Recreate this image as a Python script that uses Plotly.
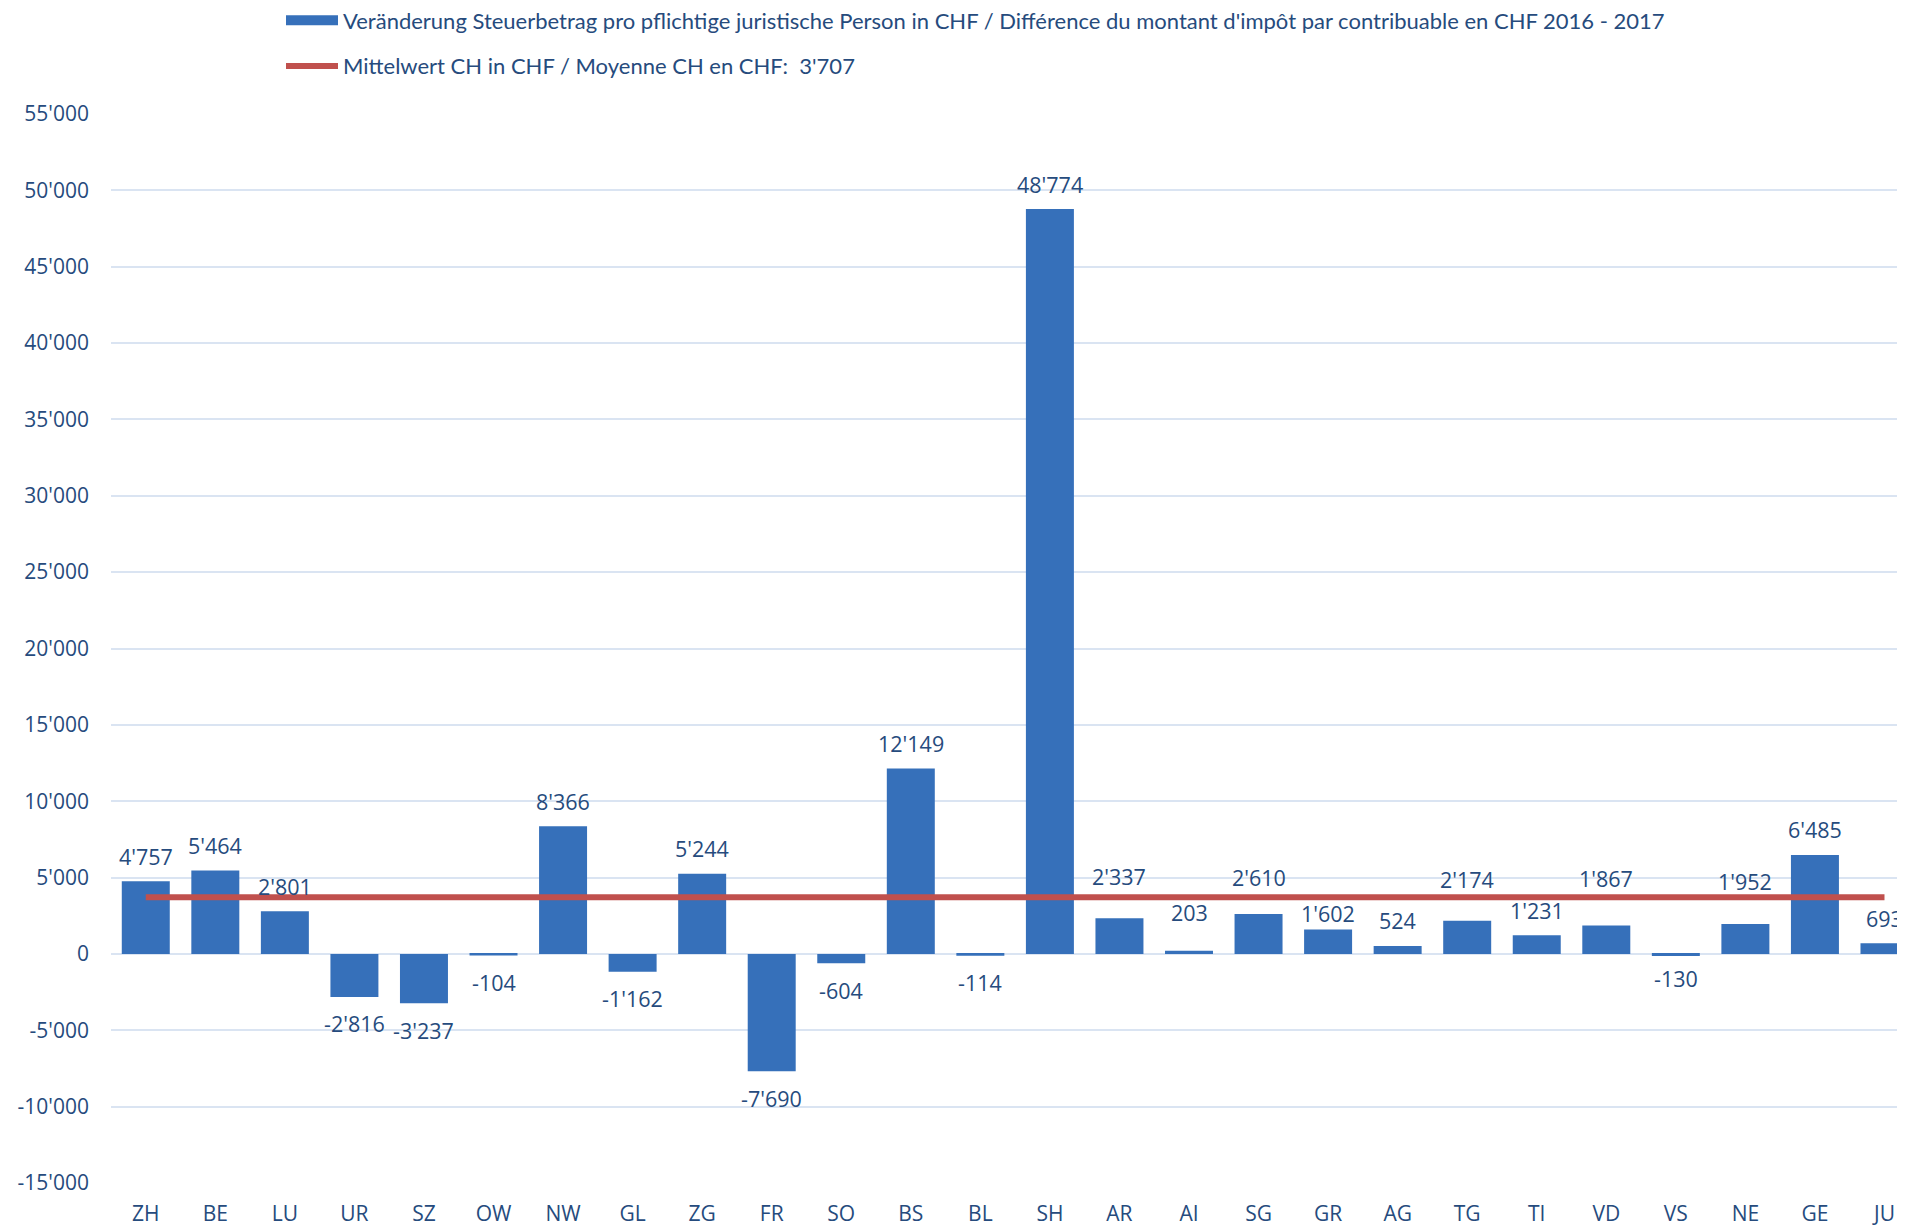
import plotly.graph_objects as go

# ---- data ----
cantons = ["ZH", "BE", "LU", "UR", "SZ", "OW", "NW", "GL", "ZG", "FR", "SO", "BS", "BL",
           "SH", "AR", "AI", "SG", "GR", "AG", "TG", "TI", "VD", "VS", "NE", "GE", "JU"]
change_per_entity = [4757, 5464, 2801, -2816, -3237, -104, 8366, -1162, 5244, -7690, -604,
                     12149, -114, 48774, 2337, 203, 2610, 1602, 524, 2174, 1231, 1867, -130,
                     1952, 6485, 693]
mean_ch = 3707
y_tick_values = list(range(-15000, 55001, 5000))

bar_name = ("Veränderung Steuerbetrag pro pflichtige juristische Person in CHF / "
            "Différence du montant d'impôt par contribuable en CHF 2016 - 2017")
line_name = "Mittelwert CH in CHF / Moyenne CH en CHF:  3'707"


def fmt(v):
    return f"{v:,}".replace(",", "'")


y_tick_text = [fmt(v) for v in y_tick_values]

# ---- style ----
TEXT = "#264B7D"
GRID = "#DAE4F2"
BAR = "#3670BA"
LINE = "#C0504D"
label_gap_pos = 25
label_gap_neg = 27
label_gap_special = {"AR": 42, "AI": 38, "SG": 37, "GR": 16, "TG": 41,
                     "VD": 47, "NE": 43, "VS": 23}

fig = go.Figure()
fig.add_trace(go.Bar(
    x=cantons, y=change_per_entity, name=bar_name, width=0.69,
    marker=dict(color=BAR, line=dict(width=0)),
    legendgroup="a", showlegend=False,
))
# legend entry for the bars (wide rectangle symbol)
fig.add_trace(go.Scatter(
    x=[None], y=[None], name=bar_name, mode="lines",
    line=dict(color=BAR, width=14), legendgroup="a", showlegend=True,
    hoverinfo="skip",
))
fig.add_trace(go.Scatter(
    x=[cantons[0], cantons[-1]], y=[mean_ch, mean_ch], name=line_name,
    mode="lines", line=dict(color=LINE, width=6),
    legendgroup="b",
))

for c, v in zip(cantons, change_per_entity):
    gap = label_gap_special.get(c, label_gap_pos if v >= 0 else label_gap_neg)
    fig.add_annotation(
        x=c, y=v, text=fmt(v), showarrow=False,
        yanchor="middle", xanchor="center",
        yshift=gap if v >= 0 else -gap,
        font=dict(family="Open Sans", size=21.5, color=TEXT),
    )

W, H = 1905, 1226
ml, mr, mt, mb = 103, 0, 106, 51
pw, ph = W - ml - mr, H - mt - mb
fig.update_layout(
    width=W, height=H,
    margin=dict(l=ml, r=mr, t=mt, b=mb, pad=0, autoexpand=False),
    paper_bgcolor="white", plot_bgcolor="white",
    showlegend=True,
    legend=dict(
        x=(273 - ml) / pw, xanchor="left",
        y=1 + (mt + 8.5) / ph, yanchor="top",
        itemwidth=52,
        font=dict(family="Lato", size=22, color=TEXT),
        traceorder="grouped", tracegroupgap=14,
        bgcolor="rgba(0,0,0,0)",
    ),
    xaxis=dict(
        type="category", range=[-0.5, 25.41],
        showgrid=False, zeroline=False, showline=False, ticks="",
        ticklabelstandoff=16,
        tickfont=dict(family="Open Sans", size=21, color=TEXT),
    ),
    yaxis=dict(
        range=[-15000, 55000],
        tickvals=y_tick_values, ticktext=y_tick_text,
        showgrid=True, gridcolor=GRID, gridwidth=2,
        zeroline=False, showline=False, ticks="",
        ticklabelstandoff=21,
        tickfont=dict(family="Open Sans", size=21, color=TEXT),
    ),
)

fig.write_html("out.html")
